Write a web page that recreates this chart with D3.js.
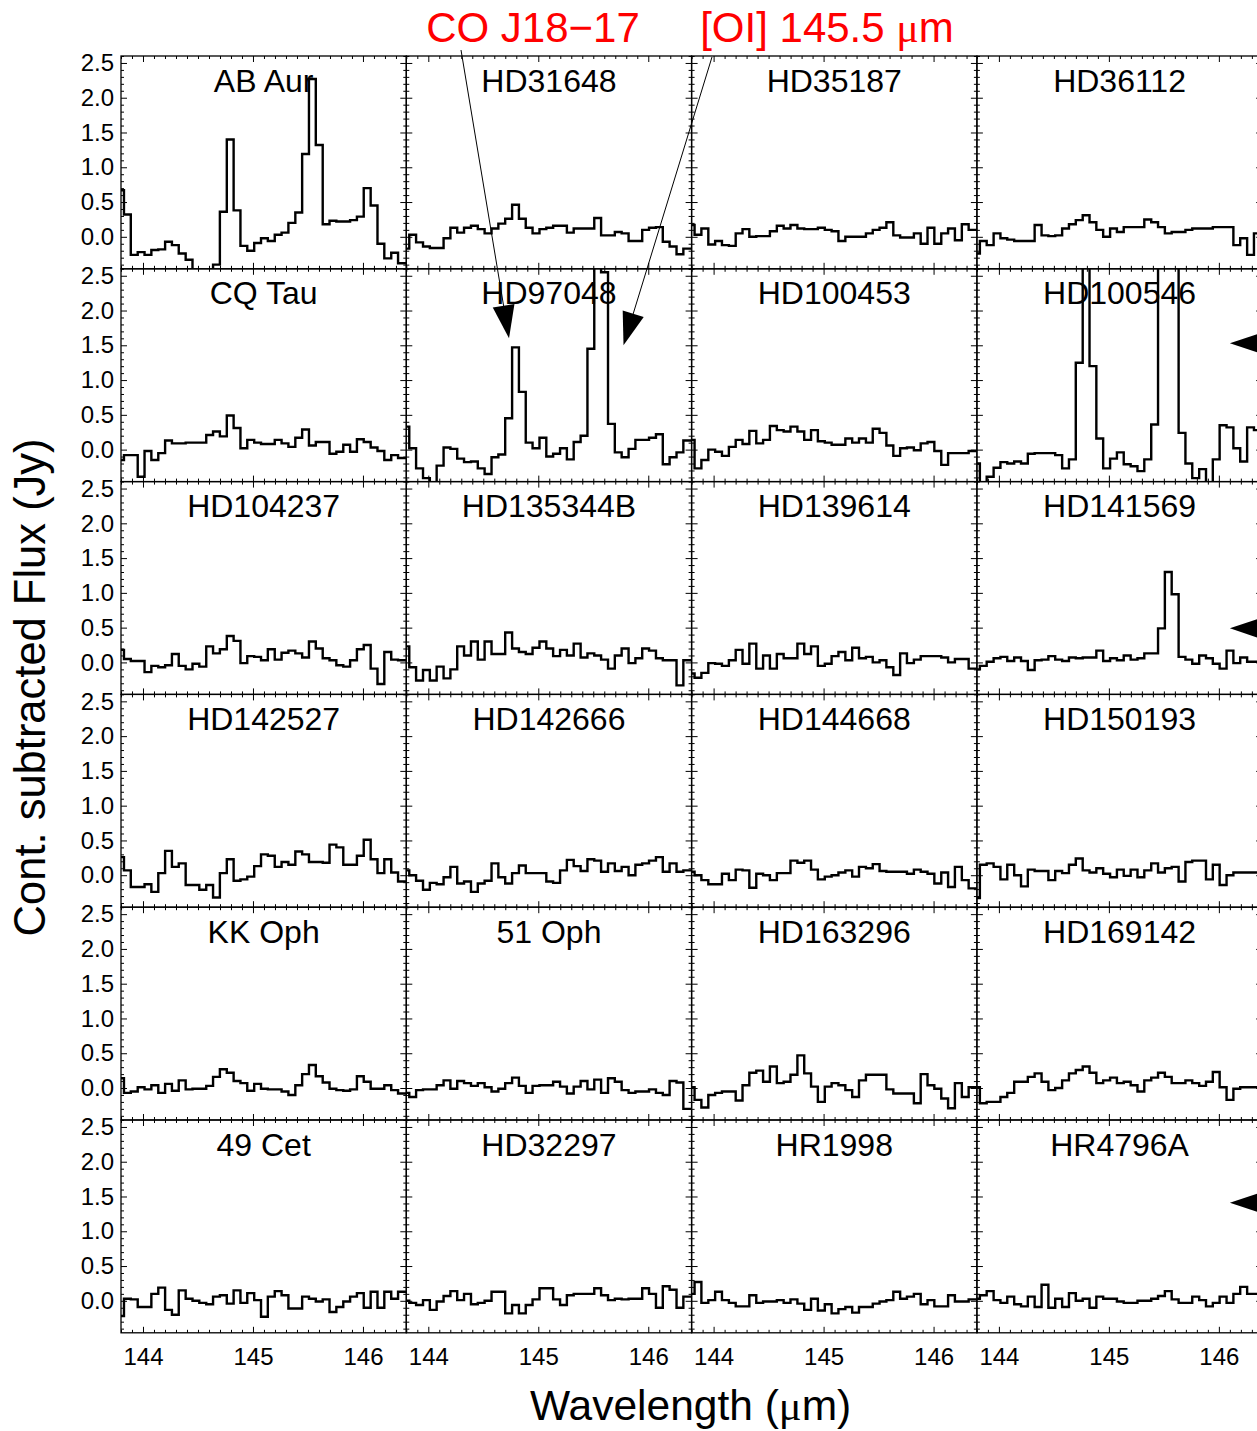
<!DOCTYPE html>
<html lang="en">
<head>
<meta charset="UTF-8">
<title>Continuum subtracted [OI] 145 um spectra</title>
<script src="https://d3js.org/d3.v7.min.js"></script>
<style>
  body { margin: 0; background: #fff; }
</style>
</head>
<body>
<script>
// wavelength bin edges (um); first and last bins are cut by the panel edges
const binEdges = [143.800, 143.827, 143.889, 143.952, 144.014, 144.076, 144.139, 144.201, 144.263,
  144.325, 144.388, 144.450, 144.512, 144.575, 144.637, 144.699, 144.762, 144.824, 144.886,
  144.948, 145.011, 145.073, 145.135, 145.198, 145.260, 145.322, 145.385, 145.447, 145.509,
  145.571, 145.634, 145.696, 145.758, 145.821, 145.883, 145.945, 146.007, 146.070, 146.132,
  146.194, 146.257, 146.319, 146.400];

// continuum subtracted flux (Jy), one value per bin
const abAur = [0.67, 0.32, -0.26, -0.22, -0.26, -0.19, -0.18, -0.07, -0.12, -0.24, -0.33, -0.6, -0.6, -0.6, -0.40, 0.36, 1.40, 0.38, -0.13, -0.20, -0.09, -0.02, -0.06, 0.03, 0.06, 0.20, 0.35, 1.19, 2.27, 1.32, 0.18, 0.23, 0.22, 0.22, 0.24, 0.29, 0.70, 0.45, -0.10, -0.31, -0.23, -0.38];
const hd31648 = [-0.17, 0.03, -0.08, -0.14, -0.16, -0.16, -0.02, 0.13, 0.06, 0.13, 0.16, 0.11, 0.05, 0.12, 0.19, 0.26, 0.46, 0.26, 0.13, 0.05, 0.11, 0.13, 0.16, 0.16, 0.06, 0.12, 0.12, 0.12, 0.27, 0.02, 0.02, 0.07, 0.05, -0.06, -0.06, 0.10, 0.13, 0.14, -0.07, -0.14, -0.25, -0.17];
const hd35187 = [0.17, 0.03, 0.12, -0.11, -0.06, -0.12, -0.13, 0.05, 0.11, 0.0, 0.01, 0.01, 0.08, 0.16, 0.12, 0.17, 0.12, 0.11, 0.11, 0.13, 0.10, 0.08, -0.06, 0.0, 0.0, 0.0, 0.05, 0.10, 0.13, 0.21, 0.02, -0.01, -0.01, 0.05, -0.10, 0.13, -0.10, 0.05, 0.12, -0.05, 0.18, 0.10];
const hd36112 = [-0.24, -0.06, -0.12, 0.05, -0.02, -0.04, -0.06, -0.06, -0.06, 0.17, 0.02, 0.01, 0.02, 0.12, 0.18, 0.24, 0.31, 0.21, 0.10, 0.0, 0.12, 0.07, 0.14, 0.14, 0.14, 0.25, 0.21, 0.14, 0.05, 0.07, 0.07, 0.10, 0.12, 0.12, 0.12, 0.14, 0.14, 0.14, -0.12, -0.02, -0.26, 0.05];
const cqTau = [-0.15, -0.08, -0.08, -0.39, -0.02, -0.15, -0.05, 0.13, 0.09, 0.09, 0.10, 0.10, 0.10, 0.21, 0.26, 0.19, 0.49, 0.31, 0.02, 0.14, 0.10, 0.08, 0.08, 0.14, 0.09, 0.04, 0.17, 0.29, 0.06, 0.11, 0.11, -0.06, -0.03, 0.07, -0.03, 0.15, 0.11, 0.03, -0.02, -0.15, -0.08, -0.12];
const hd97048 = [0.33, 0.02, -0.27, -0.41, -0.5, -0.23, 0.03, 0.01, -0.13, -0.18, -0.17, -0.27, -0.35, -0.11, -0.07, 0.45, 1.47, 0.83, 0.10, 0.02, 0.17, -0.10, -0.06, 0.02, -0.14, 0.11, 0.20, 1.45, 3.2, 2.55, 0.37, -0.04, -0.11, 0.01, 0.14, 0.14, 0.17, 0.22, -0.21, -0.11, -0.04, 0.13];
const hd100453 = [0.14, -0.27, -0.15, 0.0, -0.03, -0.09, 0.04, 0.14, 0.08, 0.27, 0.09, 0.14, 0.34, 0.28, 0.26, 0.33, 0.26, 0.14, 0.28, 0.12, 0.10, 0.07, 0.07, 0.16, 0.10, 0.16, 0.10, 0.30, 0.24, 0.06, -0.09, 0.02, 0.03, -0.01, 0.09, 0.11, -0.02, -0.22, -0.05, -0.05, -0.05, -0.02];
const hd100546 = [-0.2, -0.5, -0.39, -0.26, -0.18, -0.20, -0.17, -0.2, -0.06, -0.05, -0.05, -0.05, -0.08, -0.27, -0.14, 1.25, 3.5, 1.2, 0.16, -0.27, -0.13, -0.04, -0.21, -0.24, -0.31, -0.14, 0.36, 4, 4, 4, 0.24, -0.20, -0.41, -0.28, -0.5, -0.14, 0.35, 0.32, 0.02, -0.17, 0.32, 0.28];
const hd104237 = [0.18, 0.05, 0.02, 0.02, -0.14, -0.05, -0.07, -0.04, 0.12, -0.05, -0.10, -0.02, -0.06, 0.23, 0.13, 0.19, 0.38, 0.31, -0.01, 0.09, 0.08, 0.03, 0.19, 0.04, 0.14, 0.17, 0.13, 0.07, 0.30, 0.20, 0.06, 0.03, -0.04, -0.06, 0.03, 0.19, 0.25, -0.09, -0.31, 0.15, 0.04, 0.03];
const hd135344b = [0.23, -0.07, -0.26, -0.11, -0.26, -0.06, -0.23, -0.10, 0.23, 0.10, 0.30, 0.04, 0.30, 0.12, 0.12, 0.43, 0.20, 0.15, 0.12, 0.21, 0.30, 0.20, 0.09, 0.18, 0.10, 0.27, 0.07, 0.13, 0.10, 0.04, -0.09, 0.10, 0.20, -0.01, 0.06, 0.20, 0.17, 0.06, 0.03, 0.03, -0.33, 0.03];
const hd139614 = [-0.16, -0.22, -0.15, -0.01, -0.02, -0.05, 0.03, 0.18, -0.02, 0.27, -0.09, 0.10, -0.09, 0.12, 0.06, 0.06, 0.27, 0.12, 0.23, -0.05, -0.02, 0.09, 0.15, 0.03, 0.21, 0.06, 0.08, 0.0, 0.03, -0.07, -0.18, 0.13, -0.01, 0.04, 0.09, 0.09, 0.09, 0.07, 0.0, 0.05, 0.05, -0.09];
const hd141569 = [-0.10, -0.05, 0.01, 0.06, 0.08, 0.02, 0.07, 0.02, -0.11, 0.03, 0.04, 0.09, 0.04, 0.02, 0.07, 0.06, 0.07, 0.07, 0.17, 0.02, 0.06, 0.03, 0.10, 0.04, 0.06, 0.13, 0.13, 0.49, 1.30, 0.98, 0.08, 0.04, -0.02, 0.10, 0.06, -0.02, -0.09, 0.17, -0.01, 0.07, 0.01, 0.01];
const hd142527 = [0.26, 0.07, -0.17, -0.17, -0.13, -0.24, 0.03, 0.35, 0.12, 0.17, -0.14, -0.14, -0.21, -0.14, -0.32, 0.03, 0.23, -0.08, -0.06, -0.02, 0.13, 0.30, 0.28, 0.12, 0.19, 0.15, 0.34, 0.30, 0.19, 0.19, 0.18, 0.44, 0.40, 0.15, 0.15, 0.28, 0.51, 0.23, 0.03, 0.23, 0.04, -0.09];
const hd142666 = [0.07, 0.0, -0.08, -0.21, -0.11, -0.13, -0.03, 0.12, -0.12, -0.09, -0.24, -0.12, -0.08, 0.17, -0.03, -0.12, 0.03, 0.14, 0.03, 0.03, 0.03, -0.09, -0.11, 0.07, 0.22, 0.13, 0.06, 0.23, 0.21, 0.05, 0.17, 0.06, 0.12, 0.0, 0.15, 0.17, 0.21, 0.26, 0.05, 0.17, 0.05, 0.07];
const hd144668 = [0.05, 0.0, -0.07, -0.13, -0.13, 0.02, -0.07, 0.08, 0.07, -0.18, 0.02, 0.0, -0.07, 0.03, 0.03, 0.21, 0.18, 0.21, 0.08, -0.06, -0.02, 0.0, 0.04, 0.07, -0.02, 0.12, 0.10, 0.16, 0.06, 0.05, 0.05, 0.05, 0.02, 0.08, 0.05, 0.02, -0.12, 0.04, -0.17, 0.12, -0.07, -0.19];
const hd150193 = [-0.33, 0.15, 0.17, 0.12, -0.06, 0.15, 0.0, -0.16, 0.08, 0.06, 0.06, -0.07, 0.06, 0.03, 0.15, 0.24, 0.07, 0.04, 0.10, 0.02, -0.03, 0.08, -0.01, 0.08, -0.03, 0.07, 0.17, 0.04, 0.10, 0.12, -0.09, 0.19, 0.21, 0.21, -0.06, 0.15, -0.14, 0.0, 0.04, 0.04, 0.04, 0.04];
const kkOph = [0.14, -0.07, -0.05, 0.01, -0.02, 0.04, -0.07, 0.06, -0.04, 0.11, -0.02, -0.01, -0.01, 0.03, 0.16, 0.27, 0.22, 0.10, 0.07, -0.04, 0.06, -0.01, -0.02, -0.02, -0.05, -0.10, 0.04, 0.20, 0.33, 0.17, 0.08, -0.01, -0.03, -0.04, -0.02, 0.17, 0.09, -0.01, -0.01, 0.04, -0.03, -0.08];
const oph51 = [-0.07, -0.13, -0.03, -0.02, -0.02, 0.04, 0.11, -0.01, 0.10, 0.07, 0.03, 0.07, 0.01, -0.05, -0.01, 0.07, 0.15, 0.03, -0.07, 0.03, 0.04, 0.04, 0.09, 0.02, -0.08, 0.02, 0.10, -0.02, 0.12, -0.07, 0.14, 0.09, -0.03, -0.07, -0.05, -0.05, -0.02, -0.07, -0.10, 0.10, 0.08, -0.30];
const hd163296 = [0.01, -0.17, -0.28, -0.10, -0.07, -0.05, -0.05, -0.18, 0.04, 0.22, 0.25, 0.09, 0.31, 0.07, 0.09, 0.19, 0.47, 0.21, 0.02, -0.20, 0.02, 0.07, 0.04, -0.03, -0.13, 0.11, 0.19, 0.19, 0.19, -0.02, -0.08, -0.08, -0.08, -0.22, 0.20, 0.04, -0.01, -0.15, -0.29, 0.07, -0.13, 0.01];
const hd169142 = [0.01, -0.22, -0.20, -0.20, -0.13, -0.07, 0.09, 0.09, 0.16, 0.21, 0.09, -0.03, 0.0, 0.11, 0.21, 0.26, 0.31, 0.22, 0.07, 0.11, 0.15, 0.07, 0.09, 0.04, -0.05, 0.11, 0.15, 0.22, 0.16, 0.07, 0.07, 0.11, 0.07, 0.03, 0.09, 0.23, 0.01, -0.17, -0.01, 0.01, 0.01, 0.01];
const cet49 = [-0.22, 0.03, 0.02, -0.09, -0.09, 0.10, 0.19, -0.13, -0.20, 0.15, 0.03, 0.0, -0.03, -0.05, 0.06, 0.08, -0.04, 0.15, -0.03, 0.11, 0.01, -0.23, 0.06, 0.14, 0.08, -0.11, -0.11, 0.06, 0.03, -0.01, 0.02, -0.16, -0.09, -0.01, 0.06, 0.11, -0.10, 0.13, -0.10, 0.13, 0.03, 0.13];
const hd32297 = [0.0, -0.03, -0.06, 0.01, -0.13, -0.01, 0.07, 0.14, 0.01, 0.10, -0.05, -0.03, 0.0, 0.13, 0.13, -0.18, -0.06, -0.18, -0.06, 0.02, 0.18, 0.18, 0.02, -0.06, 0.08, 0.10, 0.10, 0.10, 0.18, 0.08, 0.01, 0.03, 0.02, 0.03, 0.03, 0.18, 0.10, -0.10, 0.21, 0.16, -0.10, 0.06];
const hr1998 = [0.10, 0.27, -0.03, 0.01, 0.13, 0.01, -0.03, -0.08, -0.08, 0.08, -0.03, -0.01, -0.01, 0.01, -0.03, 0.02, -0.04, -0.13, 0.03, -0.14, -0.05, -0.18, -0.12, -0.09, -0.17, -0.09, -0.09, -0.04, -0.01, 0.01, 0.13, 0.03, 0.06, 0.10, -0.05, 0.01, -0.08, -0.08, 0.08, -0.01, -0.01, 0.02];
const hr4796a = [0.03, 0.08, 0.14, 0.01, -0.03, 0.06, -0.05, -0.08, 0.06, -0.09, 0.23, -0.10, 0.03, -0.09, 0.11, 0.0, 0.03, -0.10, 0.06, 0.03, 0.03, -0.01, -0.03, -0.03, 0.0, 0.0, 0.03, 0.07, 0.14, 0.02, -0.03, -0.03, 0.06, 0.01, -0.08, -0.03, 0.06, -0.03, 0.10, 0.20, 0.10, 0.10];

const starNames = ["AB Aur", "HD31648", "HD35187", "HD36112",
  "CQ Tau", "HD97048", "HD100453", "HD100546",
  "HD104237", "HD135344B", "HD139614", "HD141569",
  "HD142527", "HD142666", "HD144668", "HD150193",
  "KK Oph", "51 Oph", "HD163296", "HD169142",
  "49 Cet", "HD32297", "HR1998", "HR4796A"];
const spectra = [abAur, hd31648, hd35187, hd36112, cqTau, hd97048, hd100453, hd100546,
  hd104237, hd135344b, hd139614, hd141569, hd142527, hd142666, hd144668, hd150193,
  kkOph, oph51, hd163296, hd169142, cet49, hd32297, hr1998, hr4796a];

const yMajor = [0, 0.5, 1, 1.5, 2, 2.5];
const xMajor = [144, 145, 146];

// line identifications pointing into the HD97048 panel (index 5)
const lineLabels = [
  { text: "CO J18\u221217", mu: false, tx: 533, ty: 42, from: [461, 50], wave: 144.734, flux: 1.60 },
  { text: "[OI] 145.5 ", mu: true, tx: 827, ty: 42, from: [712, 57], wave: 145.775, flux: 1.50 }
];
// arrow heads at the right edge of the last column
const edgeMarks = [
  { panel: 7, wave: 146.10, flux: 1.53 },
  { panel: 11, wave: 146.10, flux: 0.49 },
  { panel: 23, wave: 146.10, flux: 1.41 }
];

const sans = "'Liberation Sans', Arial, Helvetica, sans-serif";
const serif = "'Liberation Serif', 'Times New Roman', serif";

const width = 1257, height = 1431;
const margin = { left: 121, top: 56 };
const panelW = 285.3, panelH = 212.8;
const nCols = 4, nRows = 6;

const svg = d3.select("body")
  .append("svg")
    .attr("width", width)
    .attr("height", height)
    .style("background", "#fff");

const x = d3.scaleLinear().domain([143.80, 146.394]).range([0, panelW]);
const y = d3.scaleLinear().domain([-0.46, 2.6]).range([panelH, 0]);

svg.append("defs").append("clipPath")
    .attr("id", "panel-clip")
  .append("rect")
    .attr("width", panelW)
    .attr("height", panelH);

const yMinor = d3.range(-4, 27).map(d => d / 10).filter(d => !yMajor.includes(d));
const xMinor = d3.range(1438, 1464).map(d => d / 10).filter(d => !xMajor.includes(d));

const step = d3.line()
  .x(d => x(d[0]))
  .y(d => y(d[1]))
  .curve(d3.curveStepAfter);

function stepPoints(vals) {
  const pts = vals.map((v, i) => [binEdges[i], v]);
  pts.push([binEdges[vals.length], vals[vals.length - 1]]);
  return pts;
}

function addTicks(g, axis, values, size, format, transform, padding) {
  g.append("g")
      .attr("transform", transform || null)
      .call(axis.tickValues(values).tickSize(size).tickSizeOuter(0)
        .tickPadding(padding || 3)
        .tickFormat(format || (() => "")))
      .call(a => a.select(".domain").remove())
      .attr("font-size", 24)
      .attr("font-family", sans)
      .call(a => a.selectAll("line").attr("stroke", "#000"))
      .call(a => a.selectAll("text").attr("fill", "#000"));
}

spectra.forEach((vals, i) => {
  const c = i % nCols, r = Math.floor(i / nCols);
  const g = svg.append("g")
    .attr("transform", `translate(${margin.left + c * panelW},${margin.top + r * panelH})`);

  g.append("text")
    .attr("x", panelW / 2)
    .attr("y", 35.5)
    .attr("text-anchor", "middle")
    .attr("font-family", sans)
    .attr("font-size", 32)
    .text(starNames[i]);

  g.append("path")
    .attr("clip-path", "url(#panel-clip)")
    .attr("d", step(stepPoints(vals)))
    .attr("fill", "none")
    .attr("stroke", "#000")
    .attr("stroke-width", 2.4)
    .attr("stroke-linejoin", "miter");

  // ticks on all four sides, pointing inwards
  addTicks(g, d3.axisLeft(y), yMinor, -3);
  addTicks(g, d3.axisLeft(y), yMajor, -6, c === 0 ? d3.format(".1f") : null, null, 7);
  addTicks(g, d3.axisRight(y), yMinor, -3, null, `translate(${panelW},0)`);
  addTicks(g, d3.axisRight(y), yMajor, -6, null, `translate(${panelW},0)`);
  addTicks(g, d3.axisTop(x), xMinor, -3);
  addTicks(g, d3.axisTop(x), xMajor, -6);
  addTicks(g, d3.axisBottom(x), xMinor, -3, null, `translate(0,${panelH})`);
  addTicks(g, d3.axisBottom(x), xMajor, -6, r === nRows - 1 ? d3.format("d") : null,
    `translate(0,${panelH})`, 15);

  g.append("rect")
    .attr("width", panelW)
    .attr("height", panelH)
    .attr("fill", "none")
    .attr("stroke", "#000")
    .attr("stroke-width", 1.3);
});

function panelOrigin(i) {
  return [margin.left + (i % nCols) * panelW, margin.top + Math.floor(i / nCols) * panelH];
}

function arrowHead(tip, dir, len, half) {
  const bx = tip[0] - dir[0] * len, by = tip[1] - dir[1] * len;
  return [[tip[0], tip[1]], [bx + dir[1] * half, by - dir[0] * half], [bx - dir[1] * half, by + dir[0] * half]];
}

const origin = panelOrigin(5);
lineLabels.forEach(d => {
  const t = svg.append("text")
    .attr("x", d.tx)
    .attr("y", d.ty)
    .attr("text-anchor", "middle")
    .attr("font-family", sans)
    .attr("font-size", 42)
    .attr("fill", "#f00")
    .text(d.text);
  if (d.mu) {
    t.append("tspan").attr("font-family", serif).text("\u03bc");
    t.append("tspan").text("m");
  }
  const tip = [origin[0] + x(d.wave), origin[1] + y(d.flux)];
  const dx = tip[0] - d.from[0], dy = tip[1] - d.from[1];
  const L = Math.hypot(dx, dy);
  const dir = [dx / L, dy / L];
  svg.append("line")
    .attr("x1", d.from[0]).attr("y1", d.from[1])
    .attr("x2", tip[0] - dir[0] * 20).attr("y2", tip[1] - dir[1] * 20)
    .attr("stroke", "#000")
    .attr("stroke-width", 1);
  svg.append("path")
    .attr("d", d3.line()(arrowHead(tip, dir, 33, 11)) + "Z")
    .attr("fill", "#000");
});

edgeMarks.forEach(d => {
  const o = panelOrigin(d.panel);
  const tip = [o[0] + x(d.wave), o[1] + y(d.flux)];
  svg.append("path")
    .attr("d", d3.line()(arrowHead(tip, [-1, 0], 33, 11)) + "Z")
    .attr("fill", "#000");
});

// axis titles
svg.append("text")
  .attr("transform", `translate(45,${margin.top + nRows * panelH / 2 - 7}) rotate(-90)`)
  .attr("text-anchor", "middle")
  .attr("font-family", sans)
  .attr("font-size", 43.5)
  .text("Cont. subtracted Flux (Jy)");

const xt = svg.append("text")
  .attr("x", margin.left + 2 * panelW - 1)
  .attr("y", 1420)
  .attr("text-anchor", "middle")
  .attr("font-family", sans)
  .attr("font-size", 42.5)
  .text("Wavelength (");
xt.append("tspan").attr("font-family", serif).text("\u03bc");
xt.append("tspan").text("m)");
</script>
</body>
</html>
